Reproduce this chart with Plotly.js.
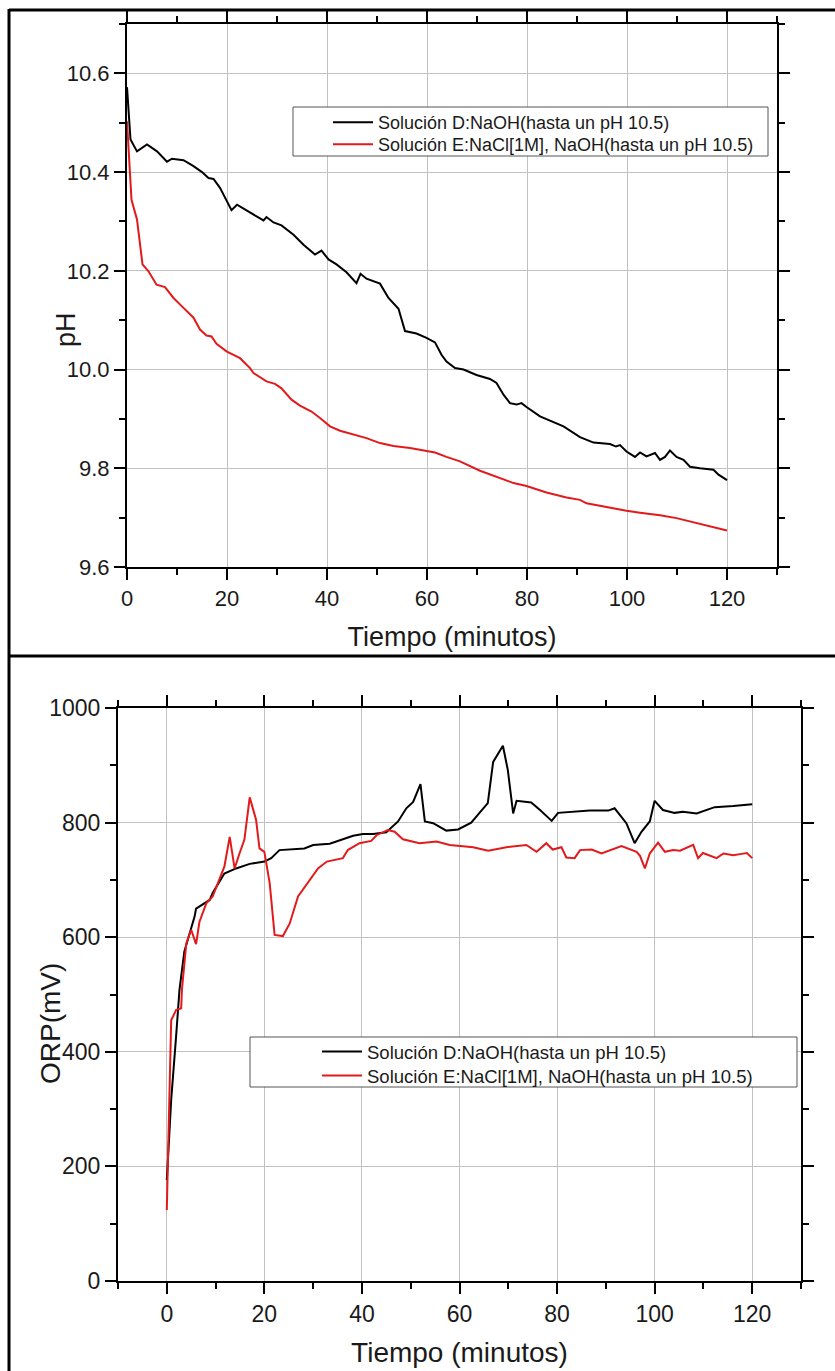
<!DOCTYPE html>
<html>
<head>
<meta charset="utf-8">
<script src="https://cdn.plot.ly/plotly-3.0.1.min.js"></script>
<style>
  html, body { margin: 0; padding: 0; background: #fff; }
  #chart { width: 835px; height: 1371px; }
</style>
</head>
<body>
<div id="chart"></div>
<script>
// ---------- data ----------
const seriesNames = [
  "Solución D:NaOH(hasta un pH 10.5)",
  "Solución E:NaCl[1M], NaOH(hasta un pH 10.5)"
];

// Panel 1: pH vs time
const phTimeD = [0,0.7,2,4,6,8,9,11.3,13.3,15,16.3,17.3,18.6,19.9,20.9,22,23.9,27.3,27.9,29.3,30.9,33.3,35.3,37.6,38.9,40.3,41.9,43.9,45.9,46.7,47.9,50.6,52.3,54.3,55.6,57.9,59.9,61.6,62.9,63.9,65.6,67.3,69.9,72.6,73.9,75.3,76.6,77.9,78.9,79.9,82.6,85.3,87.3,90.6,93.3,96.6,97.8,98.6,99.9,101.6,102.6,103.9,105.6,106.6,107.6,108.6,109.9,111.3,112.6,114.6,117.3,118.3,120];
const phD = [10.572,10.466,10.442,10.456,10.442,10.421,10.427,10.424,10.412,10.400,10.388,10.386,10.368,10.341,10.323,10.334,10.322,10.302,10.309,10.298,10.292,10.273,10.253,10.233,10.241,10.223,10.213,10.197,10.175,10.194,10.184,10.174,10.145,10.123,10.078,10.073,10.064,10.055,10.030,10.016,10.003,10.000,9.989,9.981,9.973,9.949,9.932,9.929,9.932,9.924,9.905,9.893,9.885,9.863,9.852,9.849,9.844,9.847,9.834,9.823,9.832,9.824,9.831,9.817,9.823,9.836,9.823,9.817,9.803,9.800,9.797,9.787,9.776];

const phTimeE = [0,0.5,0.9,2,3.1,4.3,5.9,7.6,9.3,11.3,13.3,14.6,15.9,16.9,17.9,19.9,22.6,24.6,25.3,27.9,29.6,30.9,32.9,34.6,36.9,38.6,40.6,42.6,45.3,47.9,50.6,53.3,56.6,59.9,61.6,63.9,66.6,70.6,73.3,77.3,79.9,83.9,87.9,90.6,91.9,95.9,99.9,102.6,106.6,109.9,113.3,116.6,120];
const phE = [10.503,10.405,10.344,10.304,10.213,10.199,10.172,10.167,10.145,10.125,10.105,10.081,10.069,10.067,10.052,10.037,10.023,10.003,9.993,9.976,9.971,9.962,9.939,9.927,9.915,9.902,9.885,9.876,9.869,9.861,9.851,9.845,9.841,9.836,9.832,9.823,9.814,9.795,9.785,9.770,9.764,9.751,9.741,9.736,9.729,9.721,9.714,9.710,9.705,9.699,9.691,9.683,9.674];

// Panel 2: ORP vs time
const orpTimeD = [0,0.9,1.9,2.6,3.6,5.7,6.0,8.8,9.4,10.8,11.8,14.2,17.0,20.0,21.4,23.1,25.9,28.2,30.0,33.4,35.8,38.2,40.2,42.3,45.0,47.4,49.1,50.5,52.0,52.9,54.6,57.3,59.7,62.4,64.1,65.8,66.9,68.9,69.9,71.0,71.7,74.7,76.5,78.9,80.2,83.3,86.7,90.5,91.8,94.2,95.9,97.3,99.0,100.0,101.7,104.1,105.8,108.6,112.3,116.1,120];
const orpD = [176,316,426,508,575,636,650,665,677,697,711,720,728,732,738,752,753,755,761,763,770,777,780,780,783,802,825,836,867,802,799,786,788,800,817,834,906,934,892,816,838,835,822,803,817,819,821,821,825,799,764,784,802,838,822,817,819,816,827,829,832];

const orpTimeE = [0,0.9,1.9,2.95,3.1,4.0,5.0,6.0,6.7,8.1,9.4,10.8,11.8,12.9,13.9,14.9,15.9,17.0,18.3,19.0,20.0,21.1,22.1,23.8,25.2,26.9,29.3,31.0,32.8,36.1,37.1,39.5,41.9,43.0,45.3,46.7,48.4,49.8,51.8,55.3,58.0,62.8,65.9,69.6,73.7,75.8,77.8,79.1,80.9,81.9,83.6,84.7,87.1,89.1,93.2,96.3,97.0,98.0,99.0,100.7,102.1,103.8,105.2,107.9,108.9,109.9,112.7,114.1,116.1,117.5,118.9,120];
const orpE = [124,455,473,476,508,589,613,588,627,659,671,700,723,775,720,746,770,844,805,755,749,694,604,602,624,671,700,720,732,738,752,764,768,778,787,784,771,768,764,767,761,757,751,757,761,749,764,753,757,739,738,752,753,746,759,749,742,720,746,765,749,752,751,761,738,747,738,746,743,745,747,738];

const xTitle = "Tiempo (minutos)";
const yTitleTop = "pH";
const yTitleBottom = "ORP(mV)";

// ---------- layout helpers (pixel -> paper) ----------
const W = 835, H = 1371;
const px = v => v / W;
const py = v => 1 - v / H;
const FONT = "Liberation Sans, Arial, sans-serif";
const BLACK = "#000000";
const RED = "#e31a1c";

const traces = [
  {x: phTimeD, y: phD, name: seriesNames[0], type: "scatter", mode: "lines",
   line: {color: BLACK, width: 2}, xaxis: "x", yaxis: "y", legend: "legend"},
  {x: phTimeE, y: phE, name: seriesNames[1], type: "scatter", mode: "lines",
   line: {color: RED, width: 2}, xaxis: "x", yaxis: "y", legend: "legend3"},
  {x: orpTimeD, y: orpD, name: seriesNames[0], type: "scatter", mode: "lines",
   line: {color: BLACK, width: 2}, xaxis: "x2", yaxis: "y2", legend: "legend2"},
  {x: orpTimeE, y: orpE, name: seriesNames[1], type: "scatter", mode: "lines",
   line: {color: RED, width: 2}, xaxis: "x2", yaxis: "y2", legend: "legend4"}
];

function axisBase(extra) {
  return Object.assign({
    showline: true, linecolor: BLACK, linewidth: 2, mirror: "ticks",
    ticks: "outside", ticklen: 11, tickwidth: 2, tickcolor: BLACK,
    showgrid: true, gridcolor: "#c2c2c2", gridwidth: 1,
    zeroline: false, automargin: false, fixedrange: true,
    tickfont: {family: FONT, size: 22, color: "#1a1a1a"}
  }, extra);
}

function legendAt(xPix, yTopPix, size) {
  return {
    x: px(xPix), y: py(yTopPix), xanchor: "left", yanchor: "top",
    bgcolor: "rgba(0,0,0,0)", borderwidth: 0, itemwidth: 40,
    font: {family: FONT, size: size, color: "#1a1a1a"}, tracegroupgap: 0
  };
}

const layout = {
  width: W, height: H,
  margin: {l: 0, r: 0, t: 0, b: 0},
  paper_bgcolor: "#ffffff", plot_bgcolor: "#ffffff",
  font: {family: FONT, color: "#1a1a1a"},
  showlegend: true,
  xaxis: axisBase({
    domain: [px(127), px(777)], anchor: "y", range: [0, 130],
    tick0: 0, dtick: 20,
    minor: {ticks: "outside", ticklen: 6, tickwidth: 2, tickcolor: BLACK, dtick: 10, tick0: 0, showgrid: false},
    title: {text: xTitle, font: {family: FONT, size: 27, color: "#1a1a1a"}, standoff: 17}
  }),
  yaxis: axisBase({
    domain: [py(567), py(24)], anchor: "x", range: [9.6, 10.7],
    tick0: 9.6, dtick: 0.2, tickformat: ".1f",
    minor: {ticks: "outside", ticklen: 6, tickwidth: 2, tickcolor: BLACK, dtick: 0.1, tick0: 9.6, showgrid: false}
  }),
  xaxis2: axisBase({
    domain: [px(118), px(801)], anchor: "y2", range: [-10, 130],
    tick0: 0, dtick: 20,
    tickfont: {family: FONT, size: 23, color: "#1a1a1a"},
    minor: {ticks: "outside", ticklen: 6, tickwidth: 2, tickcolor: BLACK, dtick: 10, tick0: 0, showgrid: false},
    title: {text: xTitle, font: {family: FONT, size: 28, color: "#1a1a1a"}, standoff: 17}
  }),
  yaxis2: axisBase({
    domain: [py(1281), py(708)], anchor: "x2", range: [0, 1000],
    tick0: 0, dtick: 200,
    tickfont: {family: FONT, size: 23, color: "#1a1a1a"},
    minor: {ticks: "outside", ticklen: 6, tickwidth: 2, tickcolor: BLACK, dtick: 100, tick0: 0, showgrid: false}
  }),
  legend:  legendAt(328, 104, 18),
  legend3: legendAt(328, 126, 18),
  legend2: legendAt(317, 1033, 18.5),
  legend4: legendAt(317, 1057, 18.5),
  annotations: [
    {text: yTitleTop, xref: "paper", yref: "paper", x: px(66), y: py(330),
     xanchor: "center", yanchor: "middle", textangle: -90, showarrow: false,
     font: {family: FONT, size: 27, color: "#1a1a1a"}},
    {text: yTitleBottom, xref: "paper", yref: "paper", x: px(50), y: py(1024),
     xanchor: "center", yanchor: "middle", textangle: -90, showarrow: false,
     font: {family: FONT, size: 28, color: "#1a1a1a"}}
  ],
  shapes: [
    // table frame
    {type: "line", xref: "paper", yref: "paper", x0: px(9), x1: 1, y0: py(10), y1: py(10), line: {color: BLACK, width: 3}},
    {type: "line", xref: "paper", yref: "paper", x0: px(9), x1: 1, y0: py(656), y1: py(656), line: {color: BLACK, width: 3}},
    {type: "line", xref: "paper", yref: "paper", x0: px(9), x1: px(9), y0: py(9), y1: 0, line: {color: BLACK, width: 3}},
    // legend boxes
    {type: "rect", xref: "paper", yref: "paper", x0: px(293), x1: px(768), y0: py(156), y1: py(107), line: {color: "#555555", width: 1}, fillcolor: "rgba(255,255,255,1)", layer: "above"},
    {type: "rect", xref: "paper", yref: "paper", x0: px(250), x1: px(797), y0: py(1087), y1: py(1037), line: {color: "#555555", width: 1}, fillcolor: "rgba(255,255,255,1)", layer: "above"}
  ]
};

Plotly.newPlot("chart", traces, layout, {staticPlot: true, displayModeBar: false});
</script>
</body>
</html>
